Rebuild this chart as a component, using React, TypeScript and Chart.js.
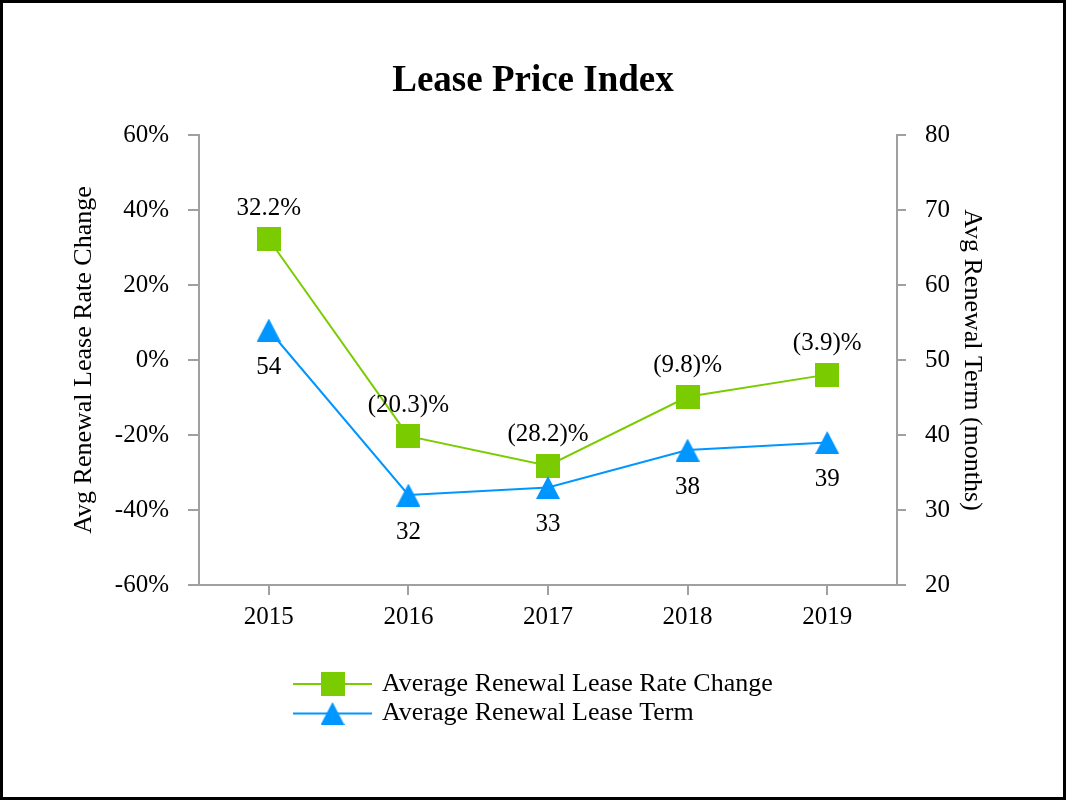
import React, { useEffect, useRef } from 'react';
import { Chart, registerables } from 'chart.js';

Chart.register(...registerables);

// ---- Data ----
const years = ['2015', '2016', '2017', '2018', '2019'];
const rateChange = [32.2, -20.3, -28.2, -9.8, -3.9];
const leaseTerm = [54, 32, 33, 38, 39];
const leftTicks = [-60, -40, -20, 0, 20, 40, 60];
const rightTicks = [20, 30, 40, 50, 60, 70, 80];
const seriesNames = ['Average Renewal Lease Rate Change', 'Average Renewal Lease Term'];
const chartTitle = 'Lease Price Index';
const leftTitle = 'Avg Renewal Lease Rate Change';
const rightTitle = 'Avg Renewal Term (months)';

// ---- Styles ----
const GREEN = '#7ACC00';
const BLUE = '#0096FF';
const AXIS = '#A0A0A0';
const FONT = "'Liberation Serif', 'Times New Roman', serif";

function makeSquare(size: number, color: string) {
  const c = document.createElement('canvas');
  c.width = size;
  c.height = size;
  const g = c.getContext('2d')!;
  g.fillStyle = color;
  g.fillRect(0, 0, size, size);
  return c;
}

function makeTriangle(w: number, h: number, color: string) {
  const c = document.createElement('canvas');
  c.width = w;
  c.height = h;
  const g = c.getContext('2d')!;
  g.fillStyle = color;
  g.beginPath();
  g.moveTo(w / 2, 0);
  g.lineTo(w, h);
  g.lineTo(0, h);
  g.closePath();
  g.fill();
  return c;
}

function fmtRate(v: number) {
  return v < 0 ? `(${Math.abs(v).toFixed(1)})%` : `${v.toFixed(1)}%`;
}

export default function App() {
  const ref = useRef<HTMLCanvasElement>(null);

  useEffect(() => {
    const square = makeSquare(24, GREEN);
    const triangle = makeTriangle(24, 23, BLUE);
    const markers = [square, triangle];
    const colors = [GREEN, BLUE];

    const labelPlugin = {
      id: 'pointLabels',
      afterDatasetsDraw(chart: any) {
        const ctx = chart.ctx;
        ctx.save();
        ctx.font = `25px ${FONT}`;
        ctx.fillStyle = '#000';
        ctx.textAlign = 'center';
        ctx.textBaseline = 'middle';
        chart.data.datasets.forEach((ds: any, i: number) => {
          const meta = chart.getDatasetMeta(i);
          const isRate = ds.yAxisID === 'y';
          meta.data.forEach((pt: any, j: number) => {
            const v = ds.data[j] as number;
            const text = isRate ? fmtRate(v) : String(v);
            ctx.fillText(text, pt.x, pt.y + (isRate ? -31 : 37));
          });
        });
        ctx.restore();
      },
    };

    const legendPlugin = {
      id: 'customLegend',
      afterDraw(chart: any) {
        const ctx = chart.ctx;
        ctx.save();
        ctx.font = `26px ${FONT}`;
        ctx.textAlign = 'left';
        ctx.textBaseline = 'middle';
        seriesNames.forEach((name, i) => {
          const y = 684 + i * 29.5;
          ctx.strokeStyle = colors[i];
          ctx.lineWidth = 2;
          ctx.beginPath();
          ctx.moveTo(293, y);
          ctx.lineTo(372, y);
          ctx.stroke();
          const m = markers[i];
          ctx.drawImage(m, 332.5 - m.width / 2, y - m.height / 2);
          ctx.fillStyle = '#000';
          ctx.fillText(name, 382, y);
        });
        ctx.restore();
      },
    };

    const tickFont = { family: FONT, size: 25 };
    const titleFont = { family: FONT, size: 26 };

    const chart = new Chart(ref.current!, {
      type: 'line',
      data: {
        labels: years,
        datasets: [
          {
            label: seriesNames[0],
            data: rateChange,
            yAxisID: 'y',
            borderColor: GREEN,
            backgroundColor: GREEN,
            borderWidth: 2,
            pointStyle: square as any,
            pointRadius: 12,
            tension: 0,
            order: 1,
          },
          {
            label: seriesNames[1],
            data: leaseTerm,
            yAxisID: 'y1',
            borderColor: BLUE,
            backgroundColor: BLUE,
            borderWidth: 2,
            pointStyle: triangle as any,
            pointRadius: 12,
            tension: 0,
            order: 0,
          },
        ],
      },
      options: {
        responsive: false,
        animation: false,
        devicePixelRatio: 1,
        layout: { padding: { top: 0, left: 0, right: 0, bottom: 155 } },
        plugins: {
          legend: { display: false },
          tooltip: { enabled: false },
          title: {
            display: true,
            text: chartTitle,
            color: '#000',
            font: { family: FONT, size: 37, weight: 'bold' },
            padding: { top: 58.8, bottom: 31.8 },
          },
        },
        scales: {
          x: {
            type: 'category',
            offset: true,
            grid: {
              offset: false,
              drawOnChartArea: false,
              drawTicks: true,
              tickLength: 10,
              color: AXIS,
              lineWidth: 2,
            },
            border: { display: true, color: AXIS, width: 2 },
            ticks: {
              font: tickFont,
              color: '#000',
              padding: 7,
              maxRotation: 0,
              autoSkip: false,
            },
            afterFit(s: any) {
              s.height = 60;
            },
          },
          y: {
            position: 'left',
            min: leftTicks[0],
            max: leftTicks[leftTicks.length - 1],
            grid: { drawOnChartArea: false, tickLength: 11, color: AXIS, lineWidth: 2 },
            border: { display: true, color: AXIS, width: 2 },
            ticks: {
              font: tickFont,
              color: '#000',
              padding: 19,
              callback: (v: any) => `${v}%`,
            },
            afterBuildTicks(s: any) {
              s.ticks = leftTicks.map((v) => ({ value: v }));
            },
            title: {
              display: true,
              text: leftTitle,
              color: '#000',
              font: titleFont,
              padding: { top: 68.9, bottom: 0 },
            },
            afterFit(s: any) {
              s.width = 199;
            },
          },
          y1: {
            position: 'right',
            min: rightTicks[0],
            max: rightTicks[rightTicks.length - 1],
            grid: { drawOnChartArea: false, tickLength: 9, color: AXIS, lineWidth: 2 },
            border: { display: true, color: AXIS, width: 2 },
            ticks: {
              font: tickFont,
              color: '#000',
              padding: 19,
            },
            afterBuildTicks(s: any) {
              s.ticks = rightTicks.map((v) => ({ value: v }));
            },
            title: {
              display: true,
              text: rightTitle,
              color: '#000',
              font: titleFont,
              padding: { top: 78.9, bottom: 0 },
            },
            afterFit(s: any) {
              s.width = 169;
            },
          },
        },
      } as any,
      plugins: [labelPlugin, legendPlugin],
    });

    return () => chart.destroy();
  }, []);

  return (
    <div style={{ position: 'absolute', left: 0, top: 0, width: 1066, height: 800, background: '#fff' }}>
      <canvas ref={ref} width={1066} height={800} style={{ display: 'block', width: 1066, height: 800 }} />
      <div
        style={{
          position: 'absolute',
          left: 0,
          top: 0,
          width: 1066,
          height: 800,
          border: '3px solid #000',
          boxSizing: 'border-box',
          pointerEvents: 'none',
        }}
      />
    </div>
  );
}
